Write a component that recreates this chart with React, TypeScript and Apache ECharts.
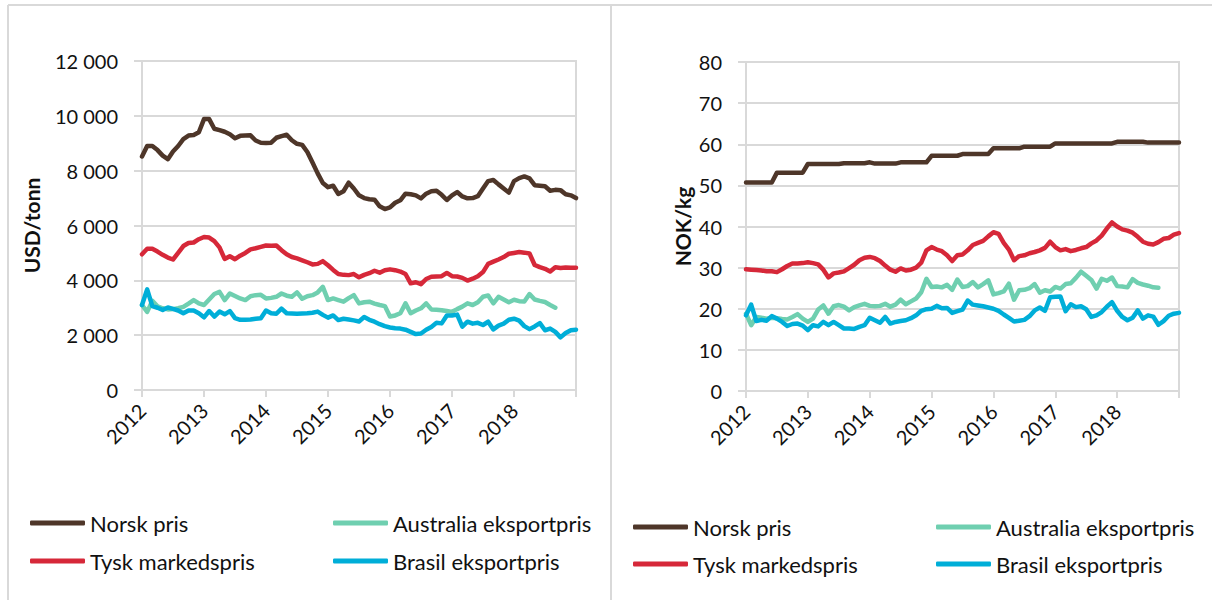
import React, { useEffect, useRef } from "react";
import * as echarts from "echarts";

// x positions are month indexes counted from January 2012
const START_YEAR = 2012;
const LAST_MONTH = 84;
const yearLabels = ["2012", "2013", "2014", "2015", "2016", "2017", "2018"];

const seriesNames = ["Norsk pris", "Tysk markedspris", "Australia eksportpris", "Brasil eksportpris"];
const seriesColors = ["#4e3629", "#d62839", "#6fcfb0", "#00aed8"];

// Left chart, USD/tonn
const usdNorsk = [
  8520, 8900, 8900, 8750, 8550, 8420, 8700, 8900, 9150, 9280, 9300, 9400,
  9880, 9880, 9530, 9480, 9420, 9330, 9180, 9270, 9280, 9290, 9100, 9020,
  9010, 9020, 9200, 9260, 9310, 9110, 8980, 8940, 8680, 8300, 7900, 7550,
  7400, 7450, 7150, 7250, 7560, 7350, 7100, 7000, 6960, 6940, 6700, 6600,
  6660, 6830, 6920, 7160, 7140, 7100, 6990, 7160, 7250, 7270, 7120, 6930,
  7100, 7220, 7060, 6990, 7000, 7070, 7350, 7620, 7660, 7500, 7350, 7200,
  7620, 7730, 7790, 7720, 7470, 7450, 7430, 7270, 7300, 7290, 7140, 7100, 7000,
];
const usdTysk = [
  4950, 5150, 5150, 5050, 4930, 4830, 4760, 5000, 5250, 5360, 5380, 5500,
  5580, 5560, 5430, 5200, 4780, 4880, 4770, 4900, 5000, 5130, 5170, 5220,
  5270, 5260, 5270, 5100, 4950, 4850, 4800, 4730, 4660, 4580, 4600, 4700,
  4550, 4380, 4230, 4200, 4190, 4230, 4110, 4200, 4260, 4350, 4280, 4370,
  4400, 4370, 4320, 4230, 3890, 3930, 3860, 4050, 4130, 4140, 4150, 4270,
  4150, 4140, 4090, 3990, 4060, 4150, 4300, 4600, 4680, 4760, 4850, 4970,
  5000, 5030, 5010, 4980, 4560, 4480, 4420, 4320, 4480, 4450, 4470, 4460, 4460,
];
const usdAustralia = [
  3100, 2850, 3250, 3050, 2980, 2940, 2950, 2980, 3030, 3150, 3280, 3160,
  3100, 3300, 3500, 3580, 3280, 3520, 3430, 3340, 3280, 3420, 3460, 3470,
  3340, 3360, 3400, 3520, 3440, 3400, 3560, 3330, 3420, 3460, 3560, 3760,
  3280, 3340, 3280, 3220, 3350, 3460, 3160, 3200, 3220, 3150, 3100, 3060,
  2680, 2720, 2800, 3160, 2800, 2900, 2980, 3160, 2940, 2930, 2910, 2880,
  2850, 2950, 3040, 3160, 3100, 3200, 3400, 3450, 3160, 3400, 3300, 3200,
  3290, 3240, 3230, 3500, 3300, 3250, 3210, 3100, 3000,
];
const usdBrasil = [
  3100, 3670, 3060, 3000, 2920, 3010, 2960, 2900, 2800, 2900, 2900, 2800,
  2650, 2880, 2680, 2860, 2760, 2880, 2620, 2560, 2560, 2570, 2600, 2620,
  2900, 2800, 2780, 2970, 2800, 2790, 2780, 2790, 2800, 2820, 2860, 2740,
  2640, 2720, 2550, 2600, 2570, 2540, 2500, 2660, 2560, 2490, 2400, 2330,
  2280, 2250, 2240, 2200, 2120, 2040, 2060, 2200, 2300, 2450, 2430, 2720,
  2720, 2750, 2310, 2490, 2420, 2450, 2370, 2490, 2210, 2350, 2420, 2560,
  2600, 2530, 2330, 2220, 2320, 2440, 2180, 2240, 2120, 1920, 2080, 2180, 2200,
];

// Right chart, NOK/kg
const nokNorsk = [
  50.7, 50.7, 50.7, 50.7, 50.7, 50.7, 53.1, 53.1, 53.1, 53.1, 53.1, 53.1,
  55.2, 55.2, 55.2, 55.2, 55.2, 55.2, 55.2, 55.4, 55.4, 55.4, 55.4, 55.4,
  55.6, 55.3, 55.3, 55.3, 55.3, 55.3, 55.6, 55.6, 55.6, 55.6, 55.6, 55.6,
  57.2, 57.2, 57.2, 57.2, 57.2, 57.2, 57.6, 57.6, 57.6, 57.6, 57.6, 57.6,
  59.0, 59.0, 59.0, 59.0, 59.0, 59.0, 59.4, 59.4, 59.4, 59.4, 59.4, 59.4,
  60.2, 60.2, 60.2, 60.2, 60.2, 60.2, 60.2, 60.2, 60.2, 60.2, 60.2, 60.2,
  60.6, 60.6, 60.6, 60.6, 60.6, 60.6, 60.4, 60.4, 60.4, 60.4, 60.4, 60.4, 60.4,
];
const nokTysk = [
  29.6, 29.5, 29.4, 29.3, 29.1, 29.1, 28.9, 29.6, 30.4, 31.0, 31.0, 31.1,
  31.3, 31.1, 30.8, 29.5, 27.6, 28.6, 28.8, 29.1, 29.9, 30.7, 31.8, 32.4,
  32.6, 32.3, 31.6, 30.5, 29.5, 29.0, 29.8, 29.3, 29.5, 30.0, 31.2, 34.2,
  35.0, 34.4, 34.0, 33.0, 31.6, 33.0, 33.2, 34.2, 35.5, 36.0, 36.5, 37.6,
  38.6, 38.2, 36.0, 34.4, 31.8, 32.8, 33.0, 33.5, 33.8, 34.2, 34.8, 36.3,
  35.0, 34.2, 34.5, 34.0, 34.3, 34.7, 35.0, 35.9, 36.6, 37.8, 39.5, 41.0,
  40.0, 39.3, 39.0, 38.5, 37.5, 36.3, 35.8, 35.6, 36.2, 37.0, 37.2, 38.0, 38.4,
];
const nokAustralia = [
  18.8, 16.0, 18.0, 17.8, 17.6, 17.8, 17.7, 17.5, 17.4, 18.0, 18.7, 17.6,
  16.8, 17.6, 19.8, 20.8, 18.8, 20.6, 20.9, 20.5, 19.6, 20.4, 20.8, 21.2,
  20.7, 20.6, 20.7, 21.2, 20.5, 21.0, 22.2, 21.1, 21.8, 22.5, 24.0, 27.3,
  25.3, 25.4, 25.2, 25.8, 24.6, 27.1, 25.3, 25.5, 26.5, 25.2, 26.0, 26.9,
  23.5, 23.8, 24.2, 26.1, 22.2, 24.5, 24.6, 25.0, 26.0, 23.9, 24.5, 24.2,
  25.3, 24.9, 26.0, 26.2, 27.5, 29.0, 28.0, 27.0, 24.9, 27.3, 26.8, 27.6,
  25.5, 25.4, 25.2, 27.2, 26.3, 25.9, 25.6, 25.2, 25.1,
];
const nokBrasil = [
  18.4, 21.0, 17.0, 17.3, 17.1, 18.2, 17.6, 16.8, 15.8, 16.3, 16.4, 15.9,
  14.8, 16.0, 15.7, 16.8, 16.0, 16.8, 16.0, 15.2, 15.2, 15.1, 15.6, 16.0,
  17.8, 17.2, 16.6, 18.0, 16.4, 16.8, 17.0, 17.2, 17.7, 18.4, 19.5, 19.9,
  20.0, 20.7, 20.1, 20.2, 19.0, 19.4, 19.8, 22.0, 21.0, 20.8, 20.6, 20.3,
  20.0, 19.5, 18.6, 17.8, 16.9, 17.1, 17.3, 18.2, 19.6, 20.3, 19.5, 22.8,
  22.9, 23.0, 19.4, 21.1, 20.4, 20.6, 19.9, 18.0, 18.4, 19.2, 20.5, 21.6,
  19.5, 18.0, 17.2, 17.8, 19.6, 17.6, 18.4, 18.1, 16.1, 17.0, 18.3, 18.8, 19.0,
];

const FONT = "Lato, 'Open Sans', sans-serif";
const GRID_COLOR = "#d9d9d9";
const TEXT_COLOR = "#111";

const toPairs = (arr: number[]) => arr.map((v, i) => [i, v]);
const spaceThousands = (v: number) => String(v).replace(/\B(?=(\d{3})+(?!\d))/g, " ");

export default function App() {
  const ref = useRef<HTMLDivElement>(null);

  useEffect(() => {
    if (!ref.current) return;
    const chart = echarts.init(ref.current, undefined, { renderer: "svg" });

    const xAxisFor = (gridIndex: number) => ({
      type: "value",
      gridIndex,
      min: 0,
      max: LAST_MONTH,
      interval: 12,
      axisLine: { show: true, lineStyle: { color: GRID_COLOR, width: 2 } },
      axisTick: { show: true, length: 7, lineStyle: { color: GRID_COLOR, width: 2 } },
      splitLine: { show: false },
      axisLabel: {
        rotate: 45,
        margin: 17,
        color: TEXT_COLOR,
        fontFamily: FONT,
        fontSize: 20,
        showMaxLabel: true,
        formatter: (v: number) => {
          const idx = Math.round(v / 12);
          return idx < yearLabels.length ? yearLabels[idx] : "";
        },
      },
    });

    const yAxisFor = (gridIndex: number, max: number, interval: number, name: string, nameGap: number, fmt: (v: number) => string) => ({
      type: "value",
      gridIndex,
      min: 0,
      max,
      interval,
      name,
      nameLocation: "middle",
      nameGap,
      nameTextStyle: { fontFamily: FONT, fontSize: 21, fontWeight: "bold", color: TEXT_COLOR },
      axisLine: { show: true, lineStyle: { color: GRID_COLOR, width: 2 } },
      axisTick: { show: true, length: 8, lineStyle: { color: GRID_COLOR, width: 2 } },
      splitLine: { show: true, lineStyle: { color: GRID_COLOR, width: 2 } },
      axisLabel: { color: TEXT_COLOR, fontFamily: FONT, fontSize: 20, margin: 24, formatter: fmt },
    });

    const leftData = [usdNorsk, usdTysk, usdAustralia, usdBrasil];
    const rightData = [nokNorsk, nokTysk, nokAustralia, nokBrasil];

    const lineSeries = (dataSets: number[][], axisIndex: number) =>
      dataSets.map((d, k) => ({
        type: "line",
        name: seriesNames[k],
        xAxisIndex: axisIndex,
        yAxisIndex: axisIndex,
        data: toPairs(d),
        showSymbol: false,
        symbol: "none",
        color: seriesColors[k],
        lineStyle: { width: 4.5, color: seriesColors[k], cap: "round", join: "round" },
      }));

    const legendItem = (name: string, left: number, centerY: number) => ({
      show: true,
      data: [name],
      left,
      top: centerY - 13,
      icon: "roundRect",
      itemWidth: 55,
      itemHeight: 5,
      selectedMode: false,
      padding: 0,
      textStyle: { fontFamily: FONT, fontSize: 22, color: TEXT_COLOR, lineHeight: 26 },
    });

    chart.setOption({
      animation: false,
      backgroundColor: "#ffffff",
      grid: [
        { left: 142, top: 61, right: 636, bottom: 210, show: true, borderColor: GRID_COLOR, borderWidth: 2, backgroundColor: "transparent" },
        { left: 746, top: 62, right: 33, bottom: 209, show: true, borderColor: GRID_COLOR, borderWidth: 2, backgroundColor: "transparent" },
      ],
      xAxis: [xAxisFor(0), xAxisFor(1)],
      yAxis: [
        yAxisFor(0, 12000, 2000, "USD/tonn", 100, (v: number) => spaceThousands(v)),
        yAxisFor(1, 80, 10, "NOK/kg", 53, (v: number) => String(v)),
      ],
      legend: [
        legendItem("Norsk pris", 30, 523),
        legendItem("Tysk markedspris", 30, 561),
        legendItem("Australia eksportpris", 333, 523),
        legendItem("Brasil eksportpris", 333, 561),
        legendItem("Norsk pris", 633, 527),
        legendItem("Tysk markedspris", 633, 564),
        legendItem("Australia eksportpris", 936, 527),
        legendItem("Brasil eksportpris", 936, 564),
      ],
      graphic: [
        { type: "line", shape: { x1: 8, y1: 5, x2: 1212, y2: 5 }, style: { stroke: GRID_COLOR, lineWidth: 2 } },
        { type: "line", shape: { x1: 8, y1: 5, x2: 8, y2: 600 }, style: { stroke: GRID_COLOR, lineWidth: 2 } },
        { type: "line", shape: { x1: 611, y1: 5, x2: 611, y2: 600 }, style: { stroke: GRID_COLOR, lineWidth: 2 } },
      ],
      series: [...lineSeries(leftData, 0), ...lineSeries(rightData, 1)],
    });

    return () => chart.dispose();
  }, []);

  return (
    <div
      ref={ref}
      style={{ position: "absolute", left: 0, top: 0, width: 1212, height: 600, background: "#fff" }}
    />
  );
}
